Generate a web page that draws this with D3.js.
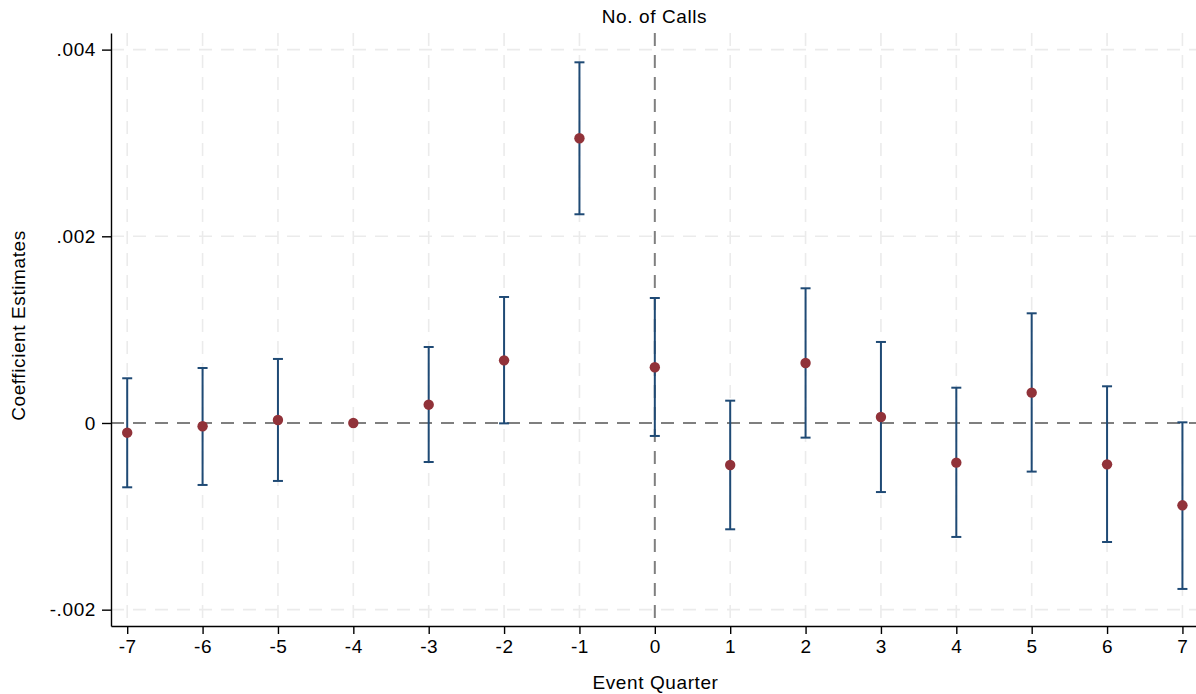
<!DOCTYPE html>
<html>
<head>
<meta charset="utf-8">
<script src="https://cdn.jsdelivr.net/npm/d3@7"></script>
<style>
  html, body { margin: 0; padding: 0; background: #fff; }
  svg { display: block; }
  text { font-family: "Liberation Sans", Arial, Helvetica, sans-serif; fill: #000; }
</style>
</head>
<body>
<svg id="chart" width="1196" height="694"></svg>
<script>
// ---- Data ----
const quarters = [-7, -6, -5, -4, -3, -2, -1, 0, 1, 2, 3, 4, 5, 6, 7];
const coef = [-0.000104, -0.000035, 0.000032, 0, 0.000196, 0.000671, 0.003050, 0.000597,
              -0.000450, 0.000643, 0.000064, -0.000425, 0.000325, -0.000443, -0.000882];
const ciLow = [-0.000689, -0.000664, -0.000621, null, -0.000418, -0.000004, 0.002236, -0.000139,
               -0.001139, -0.000157, -0.000740, -0.001221, -0.000521, -0.001275, -0.001778];
const ciHigh = [0.000479, 0.000589, 0.000686, null, 0.000814, 0.001350, 0.003864, 0.001339,
                0.000239, 0.001443, 0.000868, 0.000378, 0.001175, 0.000393, 0.000007];
const yTicks = [-0.002, 0, 0.002, 0.004];
const yTickLabels = ["-.002", "0", ".002", ".004"];
const xTicks = quarters;
const chartTitle = "No. of Calls";
const xTitle = "Event Quarter";
const yTitle = "Coefficient Estimates";

(function () {
const rows = quarters.map((q, i) => ({q, b: coef[i], lo: ciLow[i], hi: ciHigh[i]}));

// ---- Layout ----
const svg = d3.select("#chart");
const pl = 111, pr = 1196, pt = 33, pb = 626;

const x = d3.scaleLinear().domain([-7.215, 7.18]).range([pl, pr]);
const y = d3.scaleLinear().domain([-0.002175, 0.004178]).range([pb, pt]);

const gridColor = "#ebebeb";
const refColor = "#7f7f7f";
const barColor = "#1f4a75";
const dotColor = "#913239";
const fs = "19px";
const ls = "0.6px";

// grid - vertical
svg.append("g").selectAll("line").data(xTicks.filter(d => d !== 0)).join("line")
  .attr("x1", d => x(d)).attr("x2", d => x(d))
  .attr("y1", pt).attr("y2", pb)
  .attr("stroke", gridColor).attr("stroke-width", 1.6)
  .attr("stroke-dasharray", "13,9");

// grid - horizontal
svg.append("g").selectAll("line").data(yTicks.filter(d => d !== 0)).join("line")
  .attr("x1", pl).attr("x2", pr)
  .attr("y1", d => y(d)).attr("y2", d => y(d))
  .attr("stroke", gridColor).attr("stroke-width", 1.6)
  .attr("stroke-dasharray", "13,9");

// reference lines
svg.append("line")
  .attr("x1", pl).attr("x2", pr)
  .attr("y1", y(0)).attr("y2", y(0))
  .attr("stroke", refColor).attr("stroke-width", 2)
  .attr("stroke-dasharray", "13,9");
svg.append("line")
  .attr("x1", x(0)).attr("x2", x(0))
  .attr("y1", pt).attr("y2", pb)
  .attr("stroke", refColor).attr("stroke-width", 2)
  .attr("stroke-dasharray", "13,9");

// axes
const yAxis = d3.axisLeft(y).tickValues(yTicks)
  .tickFormat((d, i) => yTickLabels[i]).tickSize(9).tickSizeOuter(0).tickPadding(6);
const gy = svg.append("g").attr("transform", `translate(${pl},0)`).call(yAxis);
gy.select(".domain").attr("stroke", "#000").attr("stroke-width", 1.4);
gy.selectAll(".tick line").attr("stroke", "#000").attr("stroke-width", 1.4);
gy.selectAll(".tick text").style("font-size", fs).style("letter-spacing", ls)
  .style("font-family", '"Liberation Sans", Arial, sans-serif').attr("fill", "#000");

const xAxis = d3.axisBottom(x).tickValues(xTicks)
  .tickFormat(d => d < 0 ? "-" + Math.abs(d) : String(d)).tickSize(8).tickSizeOuter(0).tickPadding(6);
const gx = svg.append("g").attr("transform", `translate(0,${pb})`).call(xAxis);
gx.select(".domain").attr("stroke", "#000").attr("stroke-width", 1.4);
gx.selectAll(".tick line").attr("stroke", "#000").attr("stroke-width", 1.4);
gx.selectAll(".tick text").style("font-size", fs).style("letter-spacing", ls)
  .style("font-family", '"Liberation Sans", Arial, sans-serif').attr("fill", "#000");

// error bars
const ci = rows.filter(r => r.lo !== null);
const gci = svg.append("g").attr("stroke", barColor).attr("stroke-width", 2).attr("fill", "none");
gci.selectAll("line.v").data(ci).join("line").attr("class", "v")
  .attr("x1", d => x(d.q)).attr("x2", d => x(d.q))
  .attr("y1", d => y(d.lo)).attr("y2", d => y(d.hi));
gci.selectAll("line.t").data(ci).join("line").attr("class", "t")
  .attr("x1", d => x(d.q) - 5).attr("x2", d => x(d.q) + 5)
  .attr("y1", d => y(d.hi)).attr("y2", d => y(d.hi));
gci.selectAll("line.b").data(ci).join("line").attr("class", "b")
  .attr("x1", d => x(d.q) - 5).attr("x2", d => x(d.q) + 5)
  .attr("y1", d => y(d.lo)).attr("y2", d => y(d.lo));

// points
svg.append("g").selectAll("circle").data(rows).join("circle")
  .attr("cx", d => x(d.q)).attr("cy", d => y(d.b)).attr("r", 5.2)
  .attr("fill", dotColor);

// titles
svg.append("text").attr("x", (pl + pr) / 2 + 1).attr("y", 23)
  .attr("text-anchor", "middle").style("font-size", fs).style("letter-spacing", ls)
  .text(chartTitle);
svg.append("text").attr("x", (pl + pr) / 2 + 2).attr("y", 689)
  .attr("text-anchor", "middle").style("font-size", fs).style("letter-spacing", ls)
  .text(xTitle);
svg.append("text")
  .attr("transform", `translate(25,${(pt + pb) / 2 - 4}) rotate(-90)`)
  .attr("text-anchor", "middle").style("font-size", fs).style("letter-spacing", ls)
  .text(yTitle);
})();
</script>
</body>
</html>
